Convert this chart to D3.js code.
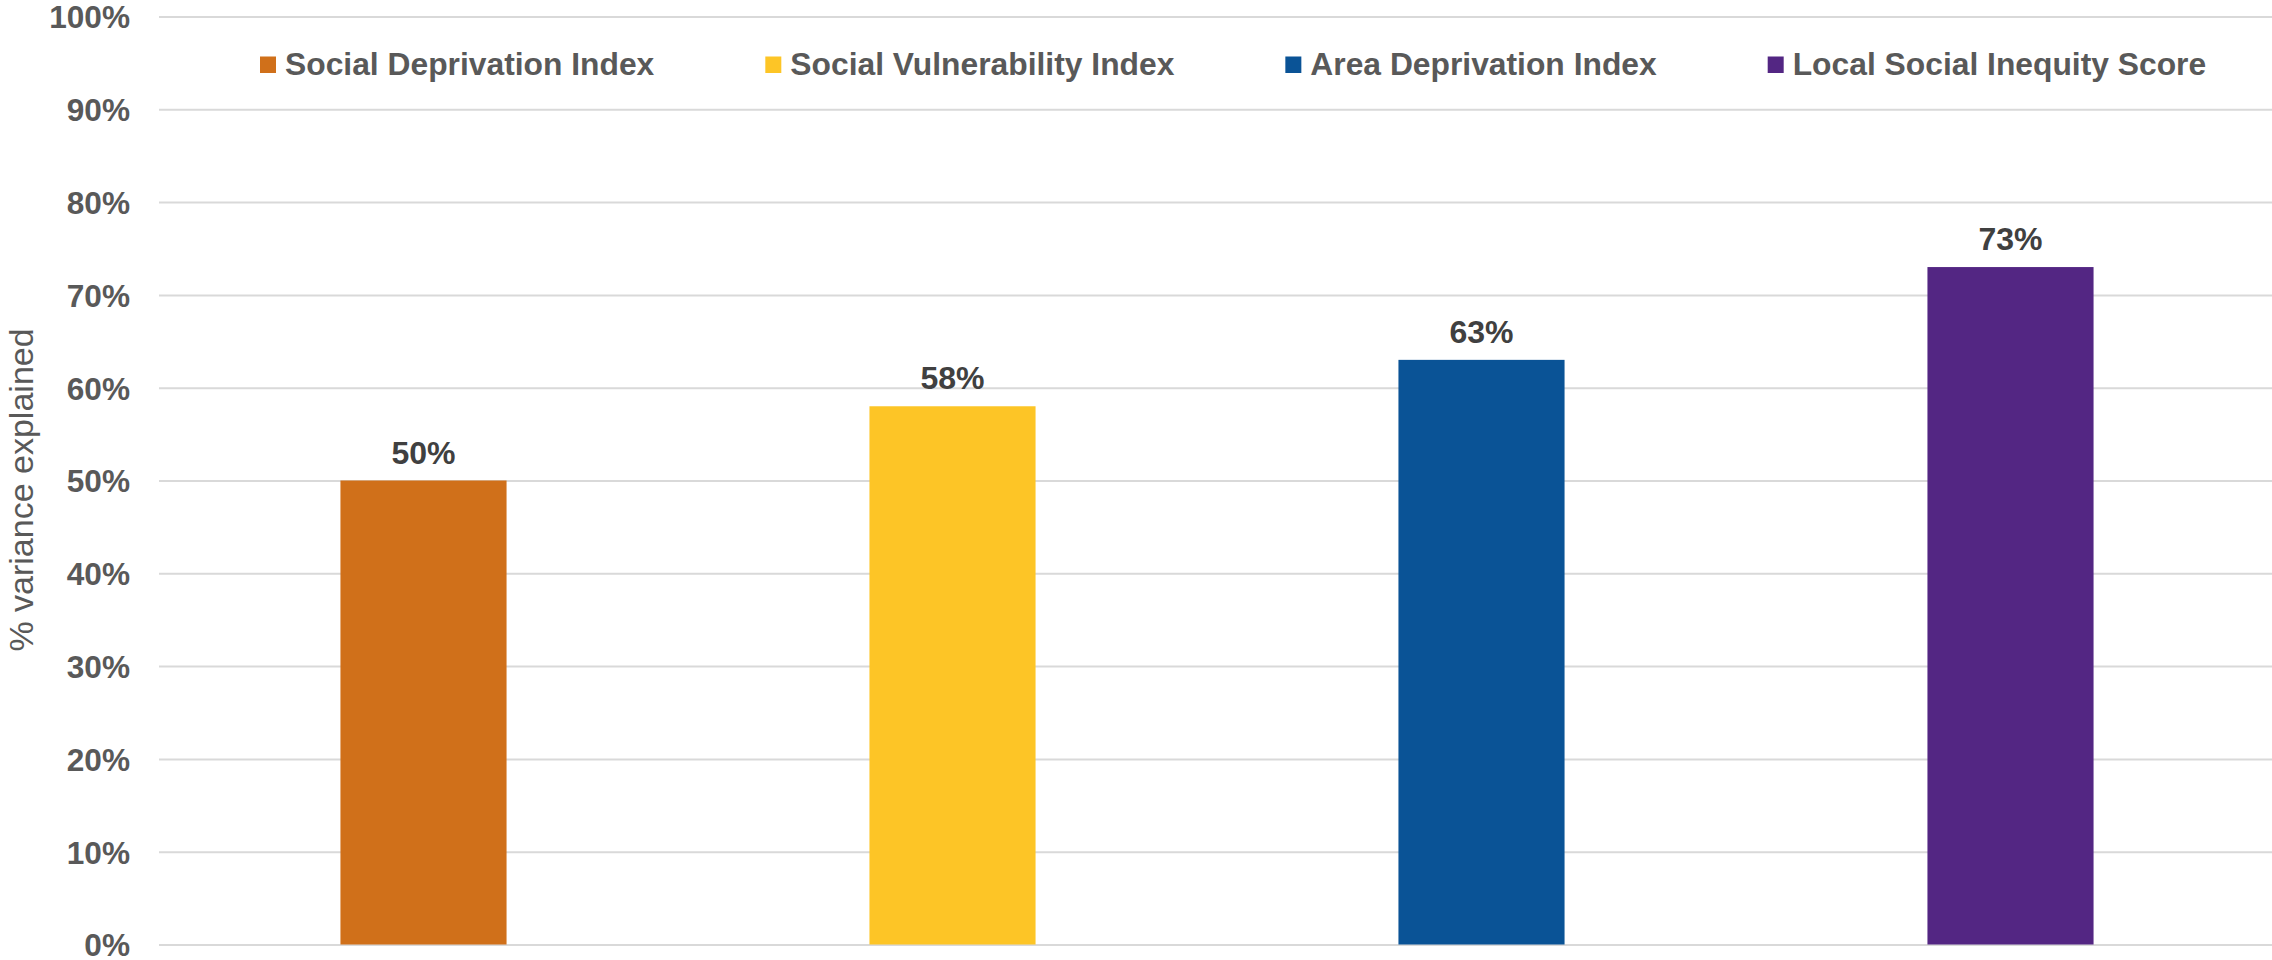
<!DOCTYPE html>
<html>
<head>
<meta charset="utf-8">
<script src="https://cdn.jsdelivr.net/npm/d3@7"></script>
<style>
  html, body { margin: 0; padding: 0; background: #ffffff; }
  svg { display: block; }
</style>
</head>
<body>
<svg id="chart" width="2272" height="960"></svg>
<script>
// Share of variance explained by each deprivation / inequity index
const categories = [
  "Social Deprivation Index",
  "Social Vulnerability Index",
  "Area Deprivation Index",
  "Local Social Inequity Score"
];
const values = [0.50, 0.58, 0.63, 0.73];
const colors = ["#D0701A", "#FDC526", "#0A5396", "#532683"];
const yTicks = [0, 0.1, 0.2, 0.3, 0.4, 0.5, 0.6, 0.7, 0.8, 0.9, 1.0];
const yTitle = "% variance explained";

const font = "'Liberation Sans', Arial, Helvetica, sans-serif";
const svg = d3.select("#chart");

const x = d3.scaleBand()
  .domain(categories)
  .range([159, 2275])
  .paddingInner(0.686)
  .paddingOuter(0.343);

const y = d3.scaleLinear()
  .domain([0, 1])
  .range([944.5, 16.5]);

const pct = d3.format(".0%");

// horizontal gridlines with the percent axis on the left
const yAxis = d3.axisLeft(y)
  .tickValues(yTicks)
  .tickFormat(pct)
  .tickSize(-(2275 - 159))
  .tickPadding(29);

const gAxis = svg.append("g")
  .attr("transform", "translate(159,0)")
  .call(yAxis);
gAxis.select(".domain").remove();
gAxis.selectAll(".tick line")
  .attr("stroke", "#d9d9d9")
  .attr("stroke-width", 2);
gAxis.selectAll(".tick text")
  .attr("fill", "#595959")
  .attr("font-family", font)
  .attr("font-weight", "bold")
  .attr("font-size", 31.6)
  .attr("dy", "0.36em");

// bars
svg.append("g")
  .selectAll("rect")
  .data(categories)
  .join("rect")
  .attr("x", d => x(d))
  .attr("width", x.bandwidth())
  .attr("y", (d, i) => y(values[i]))
  .attr("height", (d, i) => y(0) - y(values[i]))
  .attr("fill", (d, i) => colors[i]);

// value labels above bars
svg.append("g")
  .selectAll("text")
  .data(categories)
  .join("text")
  .attr("x", d => x(d) + x.bandwidth() / 2)
  .attr("y", (d, i) => y(values[i]) - 17)
  .attr("text-anchor", "middle")
  .attr("fill", "#404040")
  .attr("font-family", font)
  .attr("font-weight", "bold")
  .attr("font-size", 32)
  .text((d, i) => pct(values[i]));

// y-axis title
svg.append("text")
  .attr("transform", "translate(33,490) rotate(-90)")
  .attr("text-anchor", "middle")
  .attr("fill", "#595959")
  .attr("font-family", font)
  .attr("font-size", 34)
  .text(yTitle);

// legend laid out left to right
const legend = svg.append("g");
let lx = 260;
categories.forEach((c, i) => {
  legend.append("rect")
    .attr("x", lx)
    .attr("y", 56.5)
    .attr("width", 16)
    .attr("height", 16.5)
    .attr("fill", colors[i]);
  const t = legend.append("text")
    .attr("x", lx + 25)
    .attr("y", 75)
    .attr("fill", "#595959")
    .attr("font-family", font)
    .attr("font-weight", "bold")
    .attr("font-size", 31.8)
    .text(c);
  lx += 25 + t.node().getComputedTextLength() + 111;
});
</script>
</body>
</html>
